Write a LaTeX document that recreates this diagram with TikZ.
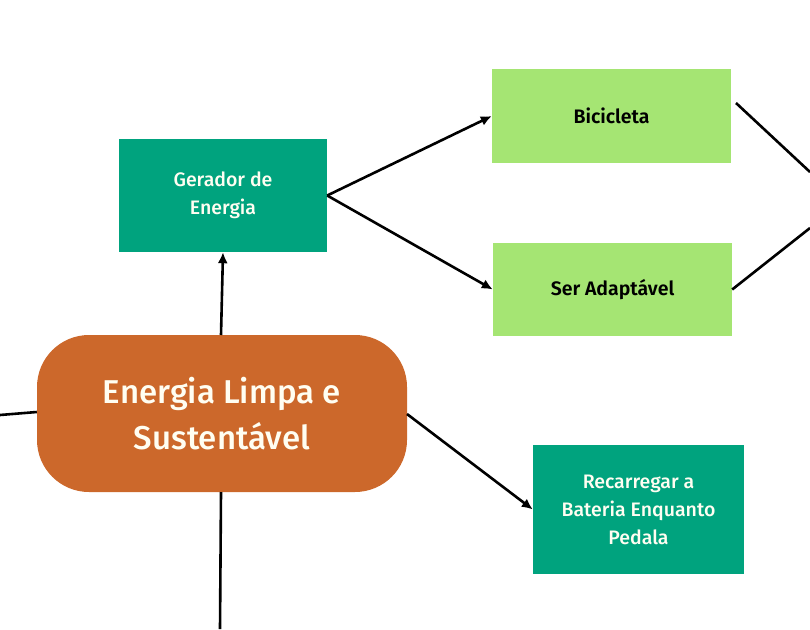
\documentclass[tikz,border=0pt]{standalone}
\usepackage{fontspec}
\setmainfont{Fira Sans}[BoldFont={Fira Sans SemiBold}]
\newfontfamily\medfont{Fira Sans Medium}
\usetikzlibrary{arrows.meta,positioning}
\definecolor{tealbox}{HTML}{00A37E}
\definecolor{limebox}{HTML}{A5E573}
\definecolor{rustbox}{HTML}{CC682B}
\begin{document}
\begin{tikzpicture}[
        x=1pt, y=-1pt,
        box/.style={inner sep=0pt, align=center, font=\medfont\fontsize{19.5}{28}\selectfont},
        tealnode/.style={box, fill=tealbox, text=white!95!yellow},
        limenode/.style={box, fill=limebox, text=black, font=\bfseries\fontsize{19.5}{28}\selectfont},
        hub/.style={fill=rustbox, rounded corners=52pt, minimum width=370pt, minimum height=157pt, align=center, text=white!95!yellow, font=\medfont\fontsize{33}{46}\selectfont},
        arr/.style={-{Latex[length=11pt, width=10pt]}, line width=2.6pt},
        ln/.style={line width=2.6pt},
    ]
        \useasboundingbox (0,0) rectangle (810,629);
        \node[hub] (hub) at (222,413.5) {Energia Limpa e\\Sustentável};
        \node[tealnode, minimum width=208pt, minimum height=113pt] (gerador) at (223,195.5) {Gerador de\\Energia};
        \node[limenode, minimum width=239pt, minimum height=94pt] (bici) at (611.5,116) {Bicicleta};
        \node[limenode, minimum width=239pt, minimum height=93pt] (adapt) at (612.5,289.5) {Ser Adaptável};
        \node[tealnode, minimum width=211pt, minimum height=129pt] (recarga) at (638.5,509.5) {Recarregar a\\Bateria Enquanto\\Pedala};
        % pontas fora do recorte
        \coordinate (outleft) at (0,415);
        \coordinate (outdown) at (220,629);
        \coordinate (outbici) at (810,172);
        \coordinate (outadapt) at (810,228);
        \draw[ln] (outleft) -- (hub.west |- 0,412);
        \draw[arr] (221,335) -- (gerador.south);
        \draw[ln] (221,492) -- (outdown);
        \draw[arr] (gerador.east) -- (bici.west);
        \draw[arr] (gerador.east) -- (adapt.west);
        \draw[ln] (736,103) -- (outbici);
        \draw[ln] (adapt.east) -- (outadapt);
        \draw[arr] (407,414) -- (recarga.west);
    \end{tikzpicture}
\end{document}
